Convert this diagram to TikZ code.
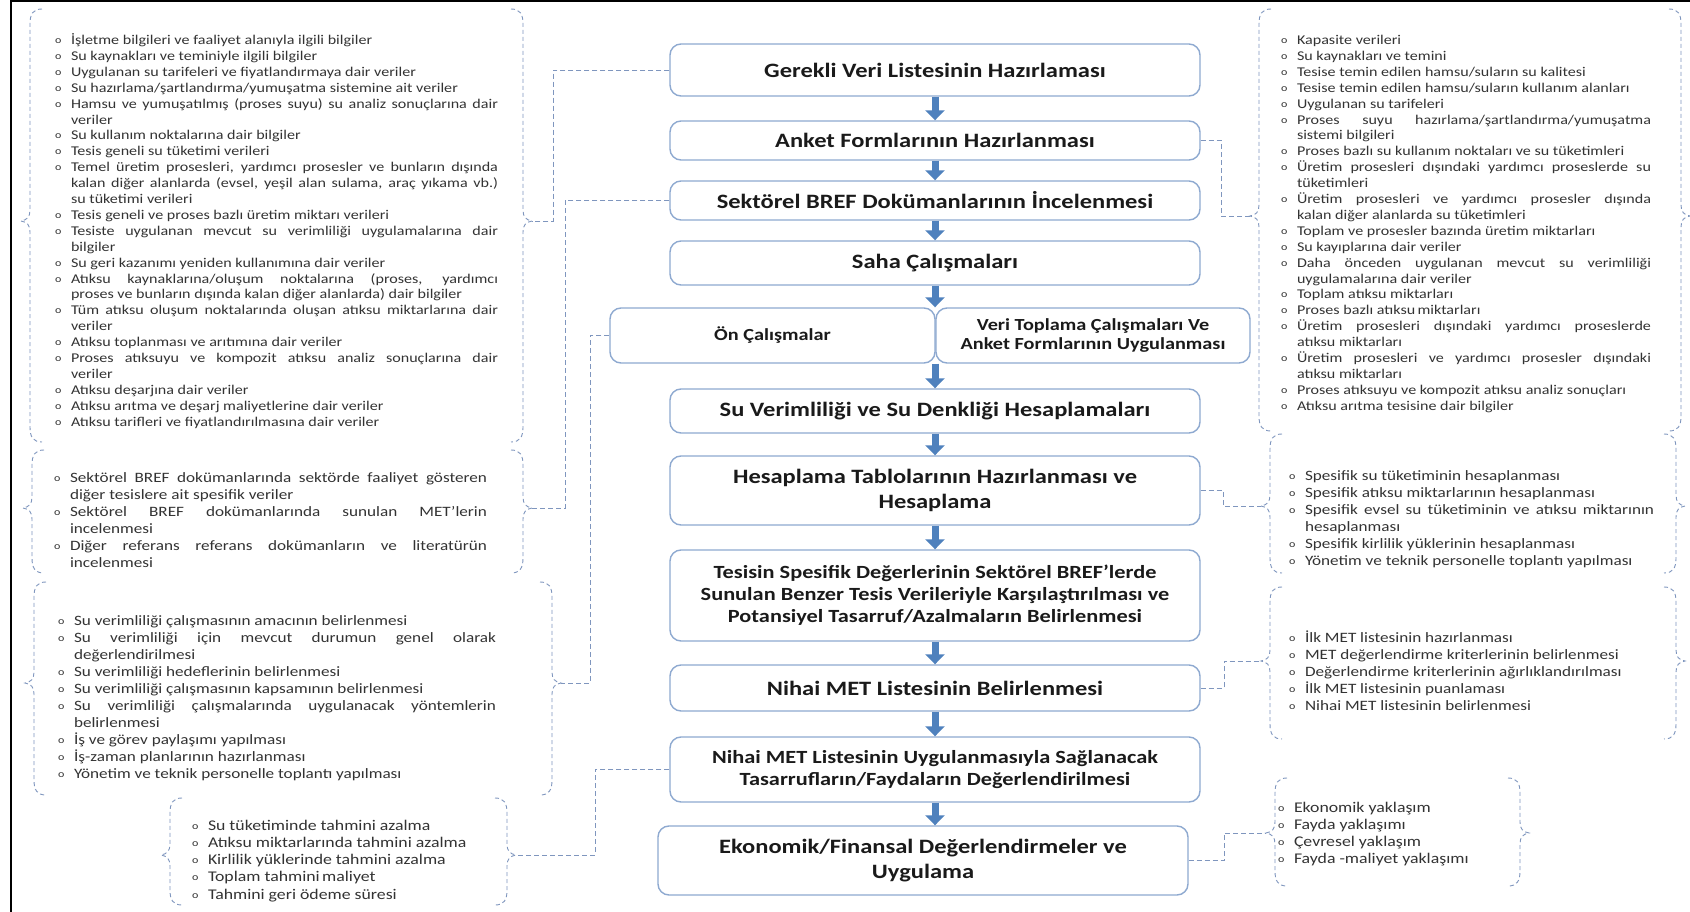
\documentclass[tikz,border=0pt]{standalone}
\usepackage{fontspec}
\setmainfont[FakeStretch=1.2]{Carlito}
\usetikzlibrary{arrows.meta}
\definecolor{boxline}{HTML}{8EA9D0}
\definecolor{arrowblue}{HTML}{4F81BD}
\definecolor{dashc}{HTML}{7F96BE}
\definecolor{mtxt}{HTML}{1A1A1A}
\definecolor{ltxt}{HTML}{333333}
\newcommand\nohyph{\hyphenpenalty=10000\exhyphenpenalty=10000\tolerance=10000\emergencystretch=30pt}
\newcommand\bul{\raisebox{1pt}{\fontsize{10}{10}\selectfont o}}
\newcommand\itm[1]{\par\hangindent=16pt\hangafter=1\noindent\makebox[16pt][l]{\bul}\strut#1\par}
\newcommand\bracepair[7]{%
 \draw[brc] (#2+12,#4) .. controls (#2+3,#4) and (#2,#4+5) .. (#2,#4+15) -- (#2,#6-11)
   .. controls (#2,#6-4) and (#2-3,#6-1) .. (#2-9,#6)
   .. controls (#2-3,#6+1) and (#2,#6+4) .. (#2,#6+11) -- (#2,#5-15)
   .. controls (#2,#5-5) and (#2+3,#5) .. (#2+12,#5);
 \draw[brc] (#3-12,#4) .. controls (#3-3,#4) and (#3,#4+5) .. (#3,#4+15) -- (#3,#7-11)
   .. controls (#3,#7-4) and (#3+3,#7-1) .. (#3+9,#7)
   .. controls (#3+3,#7+1) and (#3,#7+4) .. (#3,#7+11) -- (#3,#5-15)
   .. controls (#3,#5-5) and (#3-3,#5) .. (#3-12,#5);
 \coordinate (#1L) at (#2-9,#6);
 \coordinate (#1R) at (#3+9,#7);
}
\begin{document}
\begin{tikzpicture}[x=1pt,y=-1pt,
  mbox/.style={draw=boxline, line width=1.4pt, rounded corners=11pt, fill=white, align=center, text=mtxt, inner sep=2pt},
  fbig/.style={font=\fontsize{20.4}{25}\selectfont\bfseries},
  fmid/.style={font=\fontsize{18.6}{22}\selectfont\bfseries},
  fsml/.style={font=\fontsize{16.9}{19.5}\selectfont\bfseries},
  lst/.style={anchor=north west, inner sep=0pt, outer sep=0pt, align=justify, text=ltxt, text width=#1},
  fa/.style={font=\fontsize{13.4}{15.9}\selectfont\nohyph},
  fb/.style={font=\fontsize{14.3}{17}\selectfont\nohyph},
  fc/.style={font=\fontsize{14.8}{17.1}\selectfont\nohyph},
  arr/.style={draw=arrowblue, line width=7pt, -{Triangle[width=19pt,length=10pt]}},
  brc/.style={draw=dashc, line width=0.9pt, dash pattern=on 4pt off 3pt},
  conn/.style={draw=dashc, line width=0.9pt, dash pattern=on 5pt off 3pt}
]
\useasboundingbox (0,0) rectangle (1690,912);
\fill[white] (0,0) rectangle (1690,912);
\draw[black, line width=2pt] (11,0) -- (11,912);
\draw[black, line width=2pt] (11,1) -- (1690,1);

% main boxes
\node[mbox, fbig, minimum width=530, minimum height=52] (b1) at (935,70) {Gerekli Veri Listesinin Hazırlaması};
\node[mbox, fbig, minimum width=530, minimum height=39] (b2) at (935,140.5) {Anket Formlarının Hazırlanması};
\node[mbox, fbig, minimum width=530, minimum height=39] (b3) at (935,200.5) {Sektörel BREF Dokümanlarının İncelenmesi};
\node[mbox, fbig, minimum width=530, minimum height=44] (b4) at (935,263) {Saha Çalışmaları};
\node[mbox, fsml, minimum width=325, minimum height=55] (b5a) at (772.5,335.5) {Ön Çalışmalar};
\node[mbox, fsml, minimum width=314, minimum height=55] (b5b) at (1093,335.5) {Veri Toplama Çalışmaları Ve\\Anket Formlarının Uygulanması};
\node[mbox, fbig, minimum width=530, minimum height=44] (b6) at (935,411) {Su Verimliliği ve Su Denkliği Hesaplamaları};
\node[mbox, fbig, minimum width=530, minimum height=69] (b7) at (935,490.5) {Hesaplama Tablolarının Hazırlanması ve\\Hesaplama};
\node[mbox, fmid, minimum width=530, minimum height=91] (b8) at (935,595.5) {Tesisin Spesifik Değerlerinin Sektörel BREF’lerde\\Sunulan Benzer Tesis Verileriyle Karşılaştırılması ve\\Potansiyel Tasarruf/Azalmaların Belirlenmesi};
\node[mbox, fbig, minimum width=530, minimum height=46] (b9) at (935,688) {Nihai MET Listesinin Belirlenmesi};
\node[mbox, fmid, minimum width=530, minimum height=65] (b10) at (935,769.5) {Nihai MET Listesinin Uygulanmasıyla Sağlanacak\\Tasarrufların/Faydaların Değerlendirilmesi};
\node[mbox, fbig, minimum width=530, minimum height=69] (b11) at (923,860.5) {Ekonomik/Finansal Değerlendirmeler ve\\Uygulama};

% arrows
\draw[arr] (b1.south) -- (b2.north);
\draw[arr] (b2.south) -- (b3.north);
\draw[arr] (b3.south) -- (b4.north);
\draw[arr] (b4.south) -- (b4.south |- b5a.north);
\draw[arr] (b6.north |- b5a.south) -- (b6.north);
\draw[arr] (b6.south) -- (b7.north);
\draw[arr] (b7.south) -- (b8.north);
\draw[arr] (b8.south) -- (b9.north);
\draw[arr] (b9.south) -- (b10.north);
\draw[arr] (b10.south) -- (b10.south |- b11.north);

% braces
\bracepair{LA}{30}{523}{9}{442}{221}{221}
\bracepair{LB}{32}{523}{450}{573}{508}{508}
\bracepair{LC}{34}{552}{582}{795}{683}{683}
\bracepair{LD}{170}{507}{798}{905}{855}{855}
\bracepair{RA}{1259}{1681}{9}{431}{216}{216}
\bracepair{RB}{1270}{1676}{434}{573}{506}{506}
\bracepair{RC}{1270}{1676}{587}{739}{661}{661}
\bracepair{RD}{1275}{1520}{778}{886}{833}{833}

% connectors
\coordinate (LAe) at (553,221);
\coordinate (LBe) at (565,508);
\coordinate (LCe) at (590,683);
\coordinate (LDe) at (595,855);
\coordinate (RAe) at (1221,216);
\coordinate (RBe) at (1223,506);
\coordinate (RCe) at (1224,661);
\coordinate (RDe) at (1224,833);
\draw[conn] (b1.west) -| (LAe) -- (LAR);
\draw[conn] (b3.west) -| (LBe) -- (LBR);
\draw[conn] (b5a.west) -| (LCe) -- (LCR);
\draw[conn] (b10.west) -| (LDe) -- (LDR);
\draw[conn] (b2.east) -| (RAe) -- (RAL);
\draw[conn] (b7.east) -| (RBe) -- (RBL);
\draw[conn] (b9.east) -| (RCe) -- (RCL);
\draw[conn] (b11.east) -| (RDe) -- (RDL);

% lists
\node[lst=443, fa] (la) at (55,28.7) {%
\itm{İşletme bilgileri ve faaliyet alanıyla ilgili bilgiler}
\itm{Su kaynakları ve teminiyle ilgili bilgiler}
\itm{Uygulanan su tarifeleri ve fiyatlandırmaya dair veriler}
\itm{Su hazırlama/şartlandırma/yumuşatma sistemine ait veriler}
\itm{Hamsu ve yumuşatılmış (proses suyu) su analiz sonuçlarına dair\linebreak veriler}
\itm{Su kullanım noktalarına dair bilgiler}
\itm{Tesis geneli su tüketimi verileri}
\itm{Temel üretim prosesleri, yardımcı prosesler ve bunların dışında\linebreak kalan diğer alanlarda (evsel, yeşil alan sulama, araç yıkama vb.)\linebreak su tüketimi verileri}
\itm{Tesis geneli ve proses bazlı üretim miktarı verileri}
\itm{Tesiste uygulanan mevcut su verimliliği uygulamalarına dair\linebreak bilgiler}
\itm{Su geri kazanımı yeniden kullanımına dair veriler}
\itm{Atıksu kaynaklarına/oluşum noktalarına (proses, yardımcı\linebreak proses ve bunların dışında kalan diğer alanlarda) dair bilgiler}
\itm{Tüm atıksu oluşum noktalarında oluşan atıksu miktarlarına dair\linebreak veriler}
\itm{Atıksu toplanması ve arıtımına dair veriler}
\itm{Proses atıksuyu ve kompozit atıksu analiz sonuçlarına dair\linebreak veriler}
\itm{Atıksu deşarjına dair veriler}
\itm{Atıksu arıtma ve deşarj maliyetlerine dair veriler}
\itm{Atıksu tarifleri ve fiyatlandırılmasına dair veriler}};

\node[lst=433, fb] (lb) at (54,465.5) {%
\itm{Sektörel BREF dokümanlarında sektörde faaliyet gösteren\linebreak diğer tesislere ait spesifik veriler}
\itm{Sektörel BREF dokümanlarında sunulan MET’lerin\linebreak incelenmesi}
\itm{Diğer referans referans dokümanların ve literatürün\linebreak incelenmesi}};

\node[lst=438, fb] (lc) at (58,608) {%
\itm{Su verimliliği çalışmasının amacının belirlenmesi}
\itm{Su verimliliği için mevcut durumun genel olarak\linebreak değerlendirilmesi}
\itm{Su verimliliği hedeflerinin belirlenmesi}
\itm{Su verimliliği çalışmasının kapsamının belirlenmesi}
\itm{Su verimliliği çalışmalarında uygulanacak yöntemlerin\linebreak belirlenmesi}
\itm{İş ve görev paylaşımı yapılması}
\itm{İş-zaman planlarının hazırlanması}
\itm{Yönetim ve teknik personelle toplantı yapılması}};

\node[lst=300, fc] (ld) at (192,813.5) {%
\itm{Su tüketiminde tahmini azalma}
\itm{Atıksu miktarlarında tahmini azalma}
\itm{Kirlilik yüklerinde tahmini azalma}
\itm{Toplam tahmini\,maliyet}
\itm{Tahmini geri ödeme süresi}};

\node[lst=370, fa] (ra) at (1281,28.7) {%
\itm{Kapasite verileri}
\itm{Su kaynakları ve temini}
\itm{Tesise temin edilen hamsu/suların su kalitesi}
\itm{Tesise temin edilen hamsu/suların kullanım alanları}
\itm{Uygulanan su tarifeleri}
\itm{Proses suyu hazırlama/şartlandırma/yumuşatma\linebreak sistemi bilgileri}
\itm{Proses bazlı su kullanım noktaları ve su tüketimleri}
\itm{Üretim prosesleri dışındaki yardımcı proseslerde su\linebreak tüketimleri}
\itm{Üretim prosesleri ve yardımcı prosesler dışında\linebreak kalan diğer alanlarda su tüketimleri}
\itm{Toplam ve prosesler bazında üretim miktarları}
\itm{Su kayıplarına dair veriler}
\itm{Daha önceden uygulanan mevcut su verimliliği\linebreak uygulamalarına dair veriler}
\itm{Toplam atıksu miktarları}
\itm{Proses bazlı atıksu\,miktarları}
\itm{Üretim prosesleri dışındaki yardımcı proseslerde\linebreak atıksu miktarları}
\itm{Üretim prosesleri ve yardımcı prosesler dışındaki\linebreak atıksu miktarları}
\itm{Proses atıksuyu ve kompozit atıksu analiz sonuçları}
\itm{Atıksu arıtma tesisine dair bilgiler}};

\node[lst=365, fb] (rb) at (1289,463.5) {%
\itm{Spesifik su tüketiminin hesaplanması}
\itm{Spesifik atıksu miktarlarının hesaplanması}
\itm{Spesifik evsel su tüketiminin ve atıksu miktarının\linebreak hesaplanması}
\itm{Spesifik kirlilik yüklerinin hesaplanması}
\itm{Yönetim ve teknik personelle toplantı yapılması}};

\node[lst=365, fb] (rc) at (1289,625.5) {%
\itm{İlk MET listesinin hazırlanması}
\itm{MET değerlendirme kriterlerinin belirlenmesi}
\itm{Değerlendirme kriterlerinin ağırlıklandırılması}
\itm{İlk MET listesinin puanlaması}
\itm{Nihai MET listesinin belirlenmesi}};

\node[lst=230, fc] (rd) at (1278,795.5) {%
\itm{Ekonomik yaklaşım}
\itm{Fayda yaklaşımı}
\itm{Çevresel yaklaşım}
\itm{Fayda -maliyet yaklaşımı}};
\end{tikzpicture}
\end{document}
